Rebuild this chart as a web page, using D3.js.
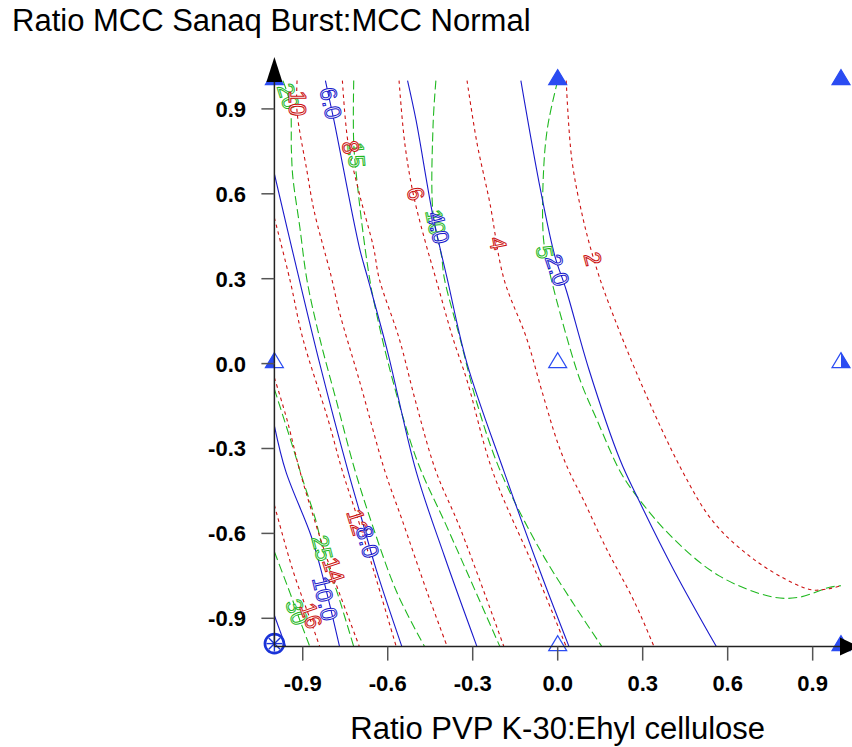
<!DOCTYPE html>
<html>
<head>
<meta charset="utf-8">
<title>Ratio MCC Sanaq Burst:MCC Normal</title>
<style>
body { margin: 0; background: #fff; }
svg { display: block; font-family: Arial, "Liberation Sans", sans-serif; }
</style>
</head>
<body>
<svg width="852" height="747"></svg>
<script src="https://d3js.org/d3.v7.min.js"></script>
<script>

// tick values
var xTicks = [-0.9, -0.6, -0.3, 0, 0.3, 0.6, 0.9];
var yTicks = [-0.9, -0.6, -0.3, 0, 0.3, 0.6, 0.9];

// design points (coded levels)
var designX = [-1, 0, 1, -1, 0, 1, 0, 1];
var designY = [1, 1, 1, 0, 0, 0, -1, -1];
var designFill = ["full", "full", "full", "left", "none", "right", "none", "full"];
var centreX = -1, centreY = -1;

// contour lines (x, y in coded units)
var blueContours = [
  {level: "2.0", label: [0.0, 0.33], pts: [[-0.13, 1.0], [-0.06, 0.61], [-0.01, 0.38], [0.03, 0.26], [0.11, -0.02], [0.22, -0.34], [0.28, -0.47], [0.41, -0.73], [0.56, -1.0]]},
  {level: "4.0", label: [-0.42, 0.48], pts: [[-0.53, 1.0], [-0.50, 0.86], [-0.44, 0.52], [-0.39, 0.30], [-0.32, 0.0], [-0.19, -0.38], [-0.06, -0.74], [0.04, -1.0]]},
  {level: "6.0", label: [-0.80, 0.92], pts: [[-0.82, 1.0], [-0.79, 0.86], [-0.70, 0.41], [-0.67, 0.30], [-0.60, 0.04], [-0.50, -0.38], [-0.40, -0.68], [-0.285, -1.0]]},
  {level: "8.0", label: [-0.67, -0.63], pts: [[-1.0, 0.67], [-0.92, 0.33], [-0.84, 0.0], [-0.74, -0.38], [-0.70, -0.52], [-0.64, -0.73], [-0.55, -1.0]]},
  {level: "10.0", label: [-0.82, -0.83], pts: [[-1.0, -0.22], [-0.96, -0.38], [-0.87, -0.61], [-0.83, -0.75], [-0.77, -1.0]]},
  {level: "12.0", label: null, pts: [[-1.0, -0.89], [-0.96, -1.0]]}
];

var redContours = [
  {level: "2", label: [0.125, 0.37], pts: [[0.03, 1.0], [0.05, 0.72], [0.09, 0.51], [0.13, 0.36], [0.17, 0.24], [0.29, -0.06], [0.44, -0.38], [0.55, -0.56], [0.69, -0.69], [0.83, -0.775], [0.90, -0.80], [0.96, -0.795], [1.0, -0.785]]},
  {level: "4", label: [-0.21, 0.425], pts: [[-0.32, 1.0], [-0.285, 0.78], [-0.24, 0.57], [-0.19, 0.30], [-0.11, 0.09], [-0.055, -0.10], [0.0, -0.28], [0.04, -0.38], [0.09, -0.48], [0.17, -0.65], [0.27, -0.84], [0.34, -1.0]]},
  {level: "6", label: [-0.50, 0.60], pts: [[-0.56, 1.0], [-0.54, 0.78], [-0.51, 0.60], [-0.47, 0.44], [-0.43, 0.30], [-0.37, 0.09], [-0.32, -0.06], [-0.23, -0.38], [-0.08, -0.73], [0.03, -1.0]]},
  {level: "8", label: [-0.73, 0.765], pts: [[-0.76, 1.0], [-0.74, 0.78], [-0.70, 0.60], [-0.65, 0.41], [-0.63, 0.30], [-0.56, 0.09], [-0.50, -0.14], [-0.43, -0.38], [-0.345, -0.58], [-0.19, -1.0]]},
  {level: "10", label: [-0.92, 0.92], pts: [[-0.92, 1.0], [-0.92, 0.89], [-0.885, 0.68], [-0.86, 0.54], [-0.80, 0.31], [-0.77, 0.18], [-0.70, -0.06], [-0.61, -0.38], [-0.55, -0.55], [-0.46, -0.81], [-0.39, -1.0]]},
  {level: "12", label: [-0.705, -0.56], pts: [[-1.0, 0.515], [-0.945, 0.295], [-0.90, 0.09], [-0.81, -0.20], [-0.76, -0.38], [-0.705, -0.55], [-0.65, -0.73], [-0.57, -1.0]]},
  {level: "14", label: [-0.79, -0.73], pts: [[-1.0, -0.05], [-0.955, -0.20], [-0.91, -0.38], [-0.85, -0.58], [-0.80, -0.73], [-0.70, -1.0]]},
  {level: "16", label: [-0.87, -0.89], pts: [[-1.0, -0.50], [-0.935, -0.73], [-0.875, -0.90], [-0.84, -1.0]]}
];

var greenContours = [
  {level: "5", label: [-0.045, 0.394], pts: [[0.0, 1.0], [-0.035, 0.84], [-0.05, 0.68], [-0.05, 0.44], [-0.03, 0.33], [0.015, 0.154], [0.079, -0.058], [0.139, -0.2], [0.22, -0.38], [0.28, -0.47], [0.41, -0.62], [0.57, -0.75], [0.76, -0.825], [0.855, -0.825], [0.96, -0.79], [1.0, -0.785]]},
  {level: "10", label: [-0.43, 0.50], pts: [[-0.43, 1.0], [-0.44, 0.84], [-0.44, 0.53], [-0.41, 0.38], [-0.40, 0.30], [-0.345, 0.09], [-0.285, -0.14], [-0.204, -0.376], [-0.062, -0.659], [0.054, -0.846], [0.156, -1.0]]},
  {level: "15", label: [-0.71, 0.737], pts: [[-0.72, 1.0], [-0.72, 0.78], [-0.705, 0.613], [-0.68, 0.408], [-0.663, 0.295], [-0.652, 0.235], [-0.592, -0.023], [-0.497, -0.341], [-0.391, -0.577], [-0.204, -1.0]]},
  {level: "20", label: [-0.95, 0.945], pts: [[-0.97, 1.0], [-0.945, 0.92], [-0.94, 0.755], [-0.935, 0.66], [-0.91, 0.48], [-0.885, 0.295], [-0.84, 0.09], [-0.779, -0.14], [-0.716, -0.376], [-0.652, -0.577], [-0.567, -0.81], [-0.47, -1.0]]},
  {level: "25", label: [-0.83, -0.652], pts: [[-1.0, -0.09], [-0.935, -0.295], [-0.90, -0.41], [-0.855, -0.55], [-0.83, -0.65], [-0.77, -0.835], [-0.72, -1.0]]},
  {level: "30", label: [-0.92, -0.878], pts: [[-1.0, -0.665], [-0.945, -0.81], [-0.92, -0.88], [-0.875, -1.0]]}
];

var svg = d3.select("svg");

var x = d3.scaleLinear().domain([-1, 1]).range([274.4, 841]);
var y = d3.scaleLinear().domain([-1, 1]).range([646.6, 80.6]);

svg.append("defs").append("clipPath").attr("id", "plot")
  .append("rect")
    .attr("x", x(-1)).attr("y", y(1) - 2)
    .attr("width", x(1) - x(-1)).attr("height", y(-1) - y(1) + 2);

// titles
svg.append("text")
    .attr("x", 12).attr("y", 31)
    .style("font-size", "31px")
    .text("Ratio MCC Sanaq Burst:MCC Normal");

svg.append("text")
    .attr("x", x(0)).attr("y", 739)
    .attr("text-anchor", "middle")
    .style("font-size", "31px")
    .text("Ratio PVP K-30:Ehyl cellulose");

// contours
var line = d3.line()
    .x(function(d) { return x(d[0]); })
    .y(function(d) { return y(d[1]); })
    .curve(d3.curveCatmullRom.alpha(0.5));

var families = [
  {data: greenContours, color: "#1fb81f", dash: "9,4", width: 1.1},
  {data: redContours, color: "#cc1111", dash: "3.5,3.5", width: 1.1},
  {data: blueContours, color: "#1a1acc", dash: null, width: 1.1}
];

var plot = svg.append("g").attr("clip-path", "url(#plot)");

families.forEach(function(f) {
  plot.selectAll(null)
    .data(f.data)
    .enter().append("path")
      .attr("d", function(d) { return line(d.pts); })
      .attr("fill", "none")
      .attr("stroke", f.color)
      .attr("stroke-width", f.width)
      .attr("stroke-dasharray", f.dash);
});

// angle of a contour near its label, in screen space
function labelAngle(d) {
  var lx = x(d.label[0]), ly = y(d.label[1]), best = Infinity, ang = 70;
  for (var i = 0; i < d.pts.length - 1; i++) {
    var x0 = x(d.pts[i][0]), y0 = y(d.pts[i][1]),
        x1 = x(d.pts[i + 1][0]), y1 = y(d.pts[i + 1][1]);
    var dist = Math.hypot((x0 + x1) / 2 - lx, (y0 + y1) / 2 - ly);
    if (dist < best) { best = dist; ang = Math.atan2(y1 - y0, x1 - x0) * 180 / Math.PI; }
  }
  if (ang > 90) ang -= 180;
  return ang;
}

families.forEach(function(f) {
  svg.selectAll(null)
    .data(f.data.filter(function(d) { return d.label; }))
    .enter().append("text")
      .attr("transform", function(d) {
        return "translate(" + x(d.label[0]) + "," + y(d.label[1]) + ") rotate(" + labelAngle(d) + ")";
      })
      .attr("text-anchor", "middle")
      .attr("dy", "0.36em")
      .style("font-size", "23px")
      .attr("fill", "#fff")
      .attr("stroke", f.color)
      .attr("stroke-width", 1)
      .text(function(d) { return d.level; });
});

// design points
var markColor = "#2b4cf2";
var tri = "M0,-11L-9,4L9,4Z";
var halfTri = {left: "M0,-11L-9,4L0,4Z", right: "M0,-11L9,4L0,4Z"};

var marks = svg.selectAll(".mark")
  .data(designX.map(function(v, i) { return {x: v, y: designY[i], fill: designFill[i]}; }))
  .enter().append("g")
    .attr("class", "mark")
    .attr("transform", function(d) { return "translate(" + x(d.x) + "," + y(d.y) + ")"; });

marks.append("path")
    .attr("d", tri)
    .attr("fill", function(d) { return d.fill === "full" ? markColor : "none"; })
    .attr("stroke", markColor)
    .attr("stroke-width", 1.2);

marks.filter(function(d) { return halfTri[d.fill]; })
  .append("path")
    .attr("d", function(d) { return halfTri[d.fill]; })
    .attr("fill", markColor);

var centre = svg.append("g")
    .attr("transform", "translate(" + x(centreX) + "," + (y(centreY) - 3) + ")");
centre.append("circle")
    .attr("r", 9.5)
    .attr("fill", "none")
    .attr("stroke", "#1a33d8")
    .attr("stroke-width", 2.6);
[0, 45, 90, 135].forEach(function(a) {
  centre.append("line")
      .attr("x1", -8).attr("x2", 8)
      .attr("transform", "rotate(" + a + ")")
      .attr("stroke", "#1a33d8")
      .attr("stroke-width", 1.4);
});

// axes
var axisColor = "#222";
svg.append("line")
    .attr("x1", x(-1)).attr("x2", 852)
    .attr("y1", y(-1)).attr("y2", y(-1))
    .attr("stroke", axisColor).attr("stroke-width", 1.5);
svg.append("line")
    .attr("x1", x(-1)).attr("x2", x(-1))
    .attr("y1", y(-1)).attr("y2", 70)
    .attr("stroke", axisColor).attr("stroke-width", 1.5);

svg.append("path")
    .attr("d", "M" + x(-1) + ",57L" + (x(-1) - 8) + ",82L" + (x(-1) + 8) + ",82Z")
    .attr("fill", "#000");
svg.append("path")
    .attr("d", "M859," + y(-1) + "L840," + (y(-1) - 9) + "L840," + (y(-1) + 9) + "Z")
    .attr("fill", "#000");

svg.selectAll(".xtick")
  .data(xTicks)
  .enter().append("line")
    .attr("class", "xtick")
    .attr("x1", function(d) { return x(d); }).attr("x2", function(d) { return x(d); })
    .attr("y1", y(-1)).attr("y2", y(-1) + 14)
    .attr("stroke", "#555").attr("stroke-width", 1.5);

svg.selectAll(".ytick")
  .data(yTicks)
  .enter().append("line")
    .attr("class", "ytick")
    .attr("x1", x(-1) - 13).attr("x2", x(-1))
    .attr("y1", function(d) { return y(d); }).attr("y2", function(d) { return y(d); })
    .attr("stroke", "#555").attr("stroke-width", 1.5);

var fmt = function(d) { return d3.format(".1f")(d).replace("\u2212", "-"); };

svg.selectAll(".xlab")
  .data(xTicks)
  .enter().append("text")
    .attr("class", "xlab")
    .attr("x", function(d) { return x(d); })
    .attr("y", 691)
    .attr("text-anchor", "middle")
    .style("font-size", "22px")
    .style("font-weight", "bold")
    .text(function(d) { return fmt(d); });

svg.selectAll(".ylab")
  .data(yTicks)
  .enter().append("text")
    .attr("class", "ylab")
    .attr("x", 246)
    .attr("y", function(d) { return y(d); })
    .attr("dy", "0.36em")
    .attr("text-anchor", "end")
    .style("font-size", "22px")
    .style("font-weight", "bold")
    .text(function(d) { return fmt(d); });

</script>
</body>
</html>
